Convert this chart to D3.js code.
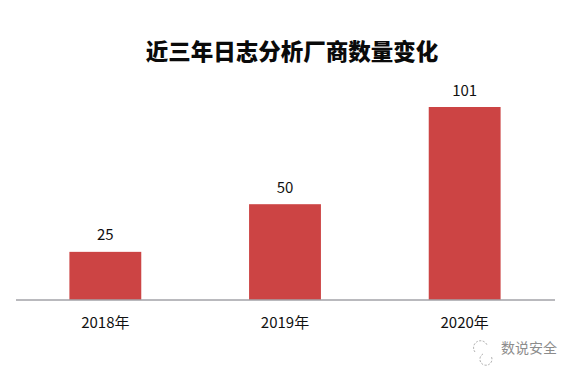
<!DOCTYPE html>
<html>
<head>
<meta charset="utf-8">
<script src="https://cdn.jsdelivr.net/npm/d3@7/dist/d3.min.js"></script>
<style>
  html, body { margin: 0; padding: 0; background: #fff; }
  text { font-family: "Noto Sans CJK SC", "Noto Sans", sans-serif; }
</style>
</head>
<body>
<div id="chart"></div>
<script>
const years = ['2018年', '2019年', '2020年'];
const vendorCounts = [25, 50, 101];
const chartTitle = '近三年日志分析厂商数量变化';
const watermark = '数说安全';

const width = 575, height = 373;
const baseline = 299.5;

const svg = d3.select('#chart').append('svg')
    .attr('width', width)
    .attr('height', height)
    .style('display', 'block');

const x = d3.scaleBand()
    .domain(years)
    .range([15.5, 554.5])
    .paddingInner(0.6)
    .paddingOuter(0.3);

const y = d3.scaleLinear()
    .domain([0, 101])
    .range([baseline, 107]);

// Title
svg.append('text')
    .attr('x', 292)
    .attr('y', 60)
    .attr('text-anchor', 'middle')
    .attr('font-size', 22.5)
    .attr('font-weight', 900)
    .attr('fill', '#0a0a0a')
    .text(chartTitle);

// Bars
svg.selectAll('.bar')
    .data(vendorCounts)
    .join('rect')
    .attr('class', 'bar')
    .attr('x', (d, i) => x(years[i]))
    .attr('y', d => y(d))
    .attr('width', x.bandwidth())
    .attr('height', d => baseline - y(d))
    .attr('fill', '#cc4444');

// Value labels
svg.selectAll('.value')
    .data(vendorCounts)
    .join('text')
    .attr('class', 'value')
    .attr('x', (d, i) => x(years[i]) + x.bandwidth() / 2)
    .attr('y', d => y(d) - 11.5)
    .attr('text-anchor', 'middle')
    .attr('font-size', 15)
    .attr('fill', '#111')
    .text(d => d);

// Axis
const axis = svg.append('g')
    .attr('transform', `translate(0, ${baseline})`)
    .call(d3.axisBottom(x).tickSize(0).tickPadding(18));
axis.select('.domain').attr('stroke', '#74747c').attr('stroke-width', 1);
axis.selectAll('text')
    .attr('font-size', 15)
    .attr('fill', '#111')
    .style('font-family', '"Noto Sans CJK SC", "Noto Sans", sans-serif');

// Watermark
const mark = svg.append('g').attr('transform', 'translate(484, 348)');
mark.append('path')
    .attr('d', 'M-9,4 A7,7 0 1 1 3,-3 M-1,6 A6,6 0 1 0 7,8')
    .attr('fill', 'none')
    .attr('stroke', '#a9a9a9')
    .attr('stroke-width', 1)
    .attr('stroke-dasharray', '2 1.5');
svg.append('text')
    .attr('x', 501)
    .attr('y', 353)
    .attr('font-size', 14)
    .attr('fill', '#8c8c8c')
    .text(watermark);
</script>
</body>
</html>
